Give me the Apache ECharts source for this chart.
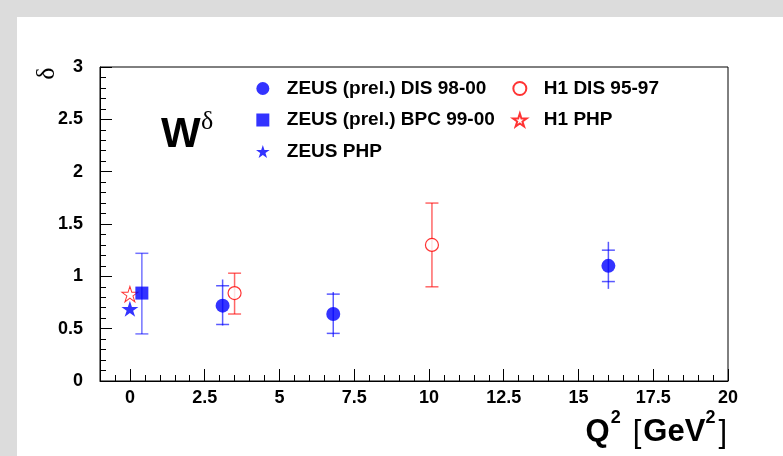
<!DOCTYPE html>
<html>
<head>
<meta charset="utf-8">
<script src="https://cdn.jsdelivr.net/npm/echarts@6/dist/echarts.min.js"></script>
<style>
  html, body { margin: 0; padding: 0; background: #fff; }
  #chart { width: 783px; height: 456px; }
</style>
</head>
<body>
<div id="chart"></div>
<script>
// Axis ticks
const xMajorTicks = [0, 2.5, 5, 7.5, 10, 12.5, 15, 17.5, 20];
const yTicks = [0, 0.5, 1, 1.5, 2, 2.5, 3];

// ZEUS (prel.) DIS 98-00: inner ticks = statistical, line ends = total
const zeusDisQ2 = [3.1, 6.8, 16.0];
const zeusDisDelta = [0.72, 0.64, 1.10];
const zeusDisStatLo = [0.54, 0.455, 0.95];
const zeusDisStatHi = [0.91, 0.83, 1.25];
const zeusDisTotLo = [0.53, 0.42, 0.88];
const zeusDisTotHi = [0.97, 0.85, 1.33];

// ZEUS (prel.) BPC 99-00
const zeusBpcQ2 = [0.4];
const zeusBpcDelta = [0.84];
const zeusBpcLo = [0.45];
const zeusBpcHi = [1.22];

// ZEUS PHP
const zeusPhpQ2 = [0];
const zeusPhpDelta = [0.69];

// H1 DIS 95-97
const h1DisQ2 = [3.5, 10.1];
const h1DisDelta = [0.84, 1.30];
const h1DisLo = [0.64, 0.90];
const h1DisHi = [1.03, 1.70];

// H1 PHP
const h1PhpQ2 = [0];
const h1PhpDelta = [0.83];

const SANS = '"Liberation Sans", Arial, Helvetica, sans-serif';
const SERIF = '"Liberation Serif", "DejaVu Serif", serif';
const BLUE = '#0000ff';
const RED = '#ff0000';

// minor x ticks every 0.5 between the major ones
const xMinorTicks = [];
for (let i = 0; i < xMajorTicks.length - 1; i++) {
  const a = xMajorTicks[i], b = xMajorTicks[i + 1], step = (b - a) / 5;
  for (let k = 1; k < 5; k++) xMinorTicks.push(+(a + k * step).toFixed(3));
}
xMinorTicks.unshift(-0.5);

// five-pointed star symbol
function starSymbol() {
  const pts = [];
  for (let i = 0; i < 10; i++) {
    const ang = -Math.PI / 2 + i * Math.PI / 5;
    const r = i % 2 ? 0.382 : 1;
    pts.push((r * Math.cos(ang)).toFixed(4) + ',' + (r * Math.sin(ang)).toFixed(4));
  }
  return 'path://M' + pts.join('L') + 'Z';
}
const STAR = starSymbol();
const SQUARE = 'path://M0,0L1,0L1,1L0,1Z';

// error bar renderer: vertical line lo..hi with horizontal ticks at tLo/tHi
function errorBars(color, halfTick) {
  return function (params, api) {
    const x = api.value(0);
    const lo = api.coord([x, api.value(1)]);
    const hi = api.coord([x, api.value(2)]);
    const tLo = api.coord([x, api.value(3)]);
    const tHi = api.coord([x, api.value(4)]);
    const style = { stroke: color, lineWidth: 1.5 };
    return {
      type: 'group',
      children: [
        { type: 'line', shape: { x1: lo[0], y1: lo[1], x2: hi[0], y2: hi[1] }, style },
        { type: 'line', shape: { x1: tLo[0] - halfTick, y1: tLo[1], x2: tLo[0] + halfTick, y2: tLo[1] }, style },
        { type: 'line', shape: { x1: tHi[0] - halfTick, y1: tHi[1], x2: tHi[0] + halfTick, y2: tHi[1] }, style }
      ]
    };
  };
}

const zeusDisErr = zeusDisQ2.map((q, i) => [q, zeusDisTotLo[i], zeusDisTotHi[i], zeusDisStatLo[i], zeusDisStatHi[i]]);
const zeusBpcErr = zeusBpcQ2.map((q, i) => [q, zeusBpcLo[i], zeusBpcHi[i], zeusBpcLo[i], zeusBpcHi[i]]);
const h1DisErr = h1DisQ2.map((q, i) => [q, h1DisLo[i], h1DisHi[i], h1DisLo[i], h1DisHi[i]]);
const pairs = (xs, ys) => xs.map((x, i) => [x, ys[i]]);

// text measuring for the composed axis title
const measureCtx = document.createElement('canvas').getContext('2d');
function textWidth(str, font) { measureCtx.font = font; return measureCtx.measureText(str).width; }

function composeTitle(pieces, rightX) {
  let total = 0;
  pieces.forEach(p => { p.w = textWidth(p.t, p.font); total += p.gap + p.w; });
  let x = rightX - total;
  return pieces.map(p => {
    x += p.gap;
    const el = { type: 'text', x: x, y: p.y, silent: true,
      style: { text: p.t, font: p.font, fill: '#000', align: 'left', verticalAlign: 'middle' } };
    x += p.w;
    return el;
  });
}

const mainB = 'bold 31px ' + SANS;
const supB = 'bold 18px ' + SANS;
const brk = '31px ' + SANS;
const xTitle = composeTitle([
  { t: 'Q', font: mainB, y: 432, gap: 0 },
  { t: '2', font: supB, y: 418, gap: 1 },
  { t: '[', font: brk, y: 433, gap: 12 },
  { t: 'GeV', font: mainB, y: 432, gap: 2 },
  { t: '2', font: supB, y: 418, gap: 0 },
  { t: ']', font: brk, y: 433, gap: 3 }
], 727);

const chart = echarts.init(document.getElementById('chart'), null, { renderer: 'canvas' });

const labelStyle = { color: '#000', fontFamily: SANS, fontWeight: 'bold', fontSize: 18 };
const legendBase = {
  orient: 'vertical', top: 79, itemWidth: 38, itemHeight: 13, itemGap: 12.5,
  padding: 0, selectedMode: false,
  textStyle: { color: '#000', fontFamily: SANS, fontWeight: 'bold', fontSize: 19 }
};

chart.setOption({
  animation: false,
  backgroundColor: '#ffffff',
  grid: { left: 100, right: 55, top: 67, bottom: 75, show: true, borderColor: '#000', borderWidth: 1, backgroundColor: 'transparent' },
  legend: [
    Object.assign({ left: 256, data: ['ZEUS (prel.) DIS 98-00', 'ZEUS (prel.) BPC 99-00', 'ZEUS PHP'] }, legendBase),
    Object.assign({ left: 512, data: ['H1 DIS 95-97', 'H1 PHP'] }, legendBase)
  ],
  xAxis: [
    {
      type: 'value', min: -1, max: 20, position: 'bottom',
      axisLine: { show: true, onZero: false, lineStyle: { color: '#000', width: 1 } },
      axisTick: { show: true, inside: true, length: 12, customValues: xMajorTicks, lineStyle: { color: '#000' } },
      axisLabel: Object.assign({ margin: 8, customValues: xMajorTicks }, labelStyle),
      splitLine: { show: false }
    },
    {
      type: 'value', min: -1, max: 20, position: 'bottom',
      axisLine: { show: false, onZero: false },
      axisTick: { show: true, inside: true, length: 6, customValues: xMinorTicks, lineStyle: { color: '#000' } },
      axisLabel: { show: false },
      splitLine: { show: false }
    }
  ],
  yAxis: {
    type: 'value', min: 0, max: 3, interval: 0.5, position: 'left',
    axisLine: { show: true, onZero: false, lineStyle: { color: '#000', width: 1 } },
    axisTick: { show: true, inside: true, length: 12, customValues: yTicks, lineStyle: { color: '#000' } },
    minorTick: { show: true, splitNumber: 5, length: 6, lineStyle: { color: '#000' } },
    axisLabel: Object.assign({ margin: 17, customValues: yTicks }, labelStyle),
    splitLine: { show: false }
  },
  graphic: [
    { type: 'rect', shape: { x: 0, y: 0, width: 17, height: 456 }, style: { fill: '#dcdcdc' }, silent: true },
    { type: 'rect', shape: { x: 0, y: 0, width: 783, height: 17 }, style: { fill: '#dcdcdc' }, silent: true },
    { type: 'group', x: 47, y: 73.5, rotation: Math.PI / 2, silent: true, children: [
      { type: 'text', x: 0, y: 0,
        style: { text: 'δ', font: '26px ' + SERIF, fill: '#000', align: 'center', verticalAlign: 'middle' } }
    ] },
    { type: 'text', x: 161, y: 135, silent: true,
      style: { text: 'W', font: 'bold 42px ' + SANS, fill: '#000', align: 'left', verticalAlign: 'middle' } },
    { type: 'text', x: 201, y: 122, silent: true,
      style: { text: 'δ', font: '26px ' + SERIF, fill: '#000', align: 'left', verticalAlign: 'middle' } }
  ].concat(xTitle),
  series: [
    { type: 'custom', name: 'zeusDisErr', xAxisIndex: 0, renderItem: errorBars('rgba(0,0,255,0.65)', 6.5), data: zeusDisErr, z: 2, silent: true },
    { type: 'custom', name: 'zeusBpcErr', xAxisIndex: 0, renderItem: errorBars('rgba(0,0,255,0.55)', 6.5), data: zeusBpcErr, z: 2, silent: true },
    { type: 'custom', name: 'h1DisErr', xAxisIndex: 0, renderItem: errorBars('rgba(255,0,0,0.6)', 6.5), data: h1DisErr, z: 2, silent: true },
    { type: 'scatter', name: 'H1 PHP', xAxisIndex: 0, data: pairs(h1PhpQ2, h1PhpDelta), symbol: STAR, symbolSize: [16, 15.5],
      itemStyle: { color: '#ffffff', borderColor: RED, borderWidth: 1 }, z: 3 },
    { type: 'scatter', name: 'ZEUS PHP', xAxisIndex: 0, data: pairs(zeusPhpQ2, zeusPhpDelta), symbol: STAR, symbolSize: [17, 16],
      itemStyle: { color: BLUE }, z: 3 },
    { type: 'scatter', name: 'ZEUS (prel.) BPC 99-00', xAxisIndex: 0, data: pairs(zeusBpcQ2, zeusBpcDelta), symbol: SQUARE, symbolSize: 13,
      itemStyle: { color: BLUE }, z: 4 },
    { type: 'scatter', name: 'ZEUS (prel.) DIS 98-00', xAxisIndex: 0, data: pairs(zeusDisQ2, zeusDisDelta), symbol: 'circle', symbolSize: 14,
      itemStyle: { color: BLUE }, z: 4 },
    { type: 'scatter', name: 'H1 DIS 95-97', xAxisIndex: 0, data: pairs(h1DisQ2, h1DisDelta), symbol: 'circle', symbolSize: 13,
      itemStyle: { color: '#ffffff', borderColor: RED, borderWidth: 1.2 }, z: 4 }
  ]
});
</script>
</body>
</html>
